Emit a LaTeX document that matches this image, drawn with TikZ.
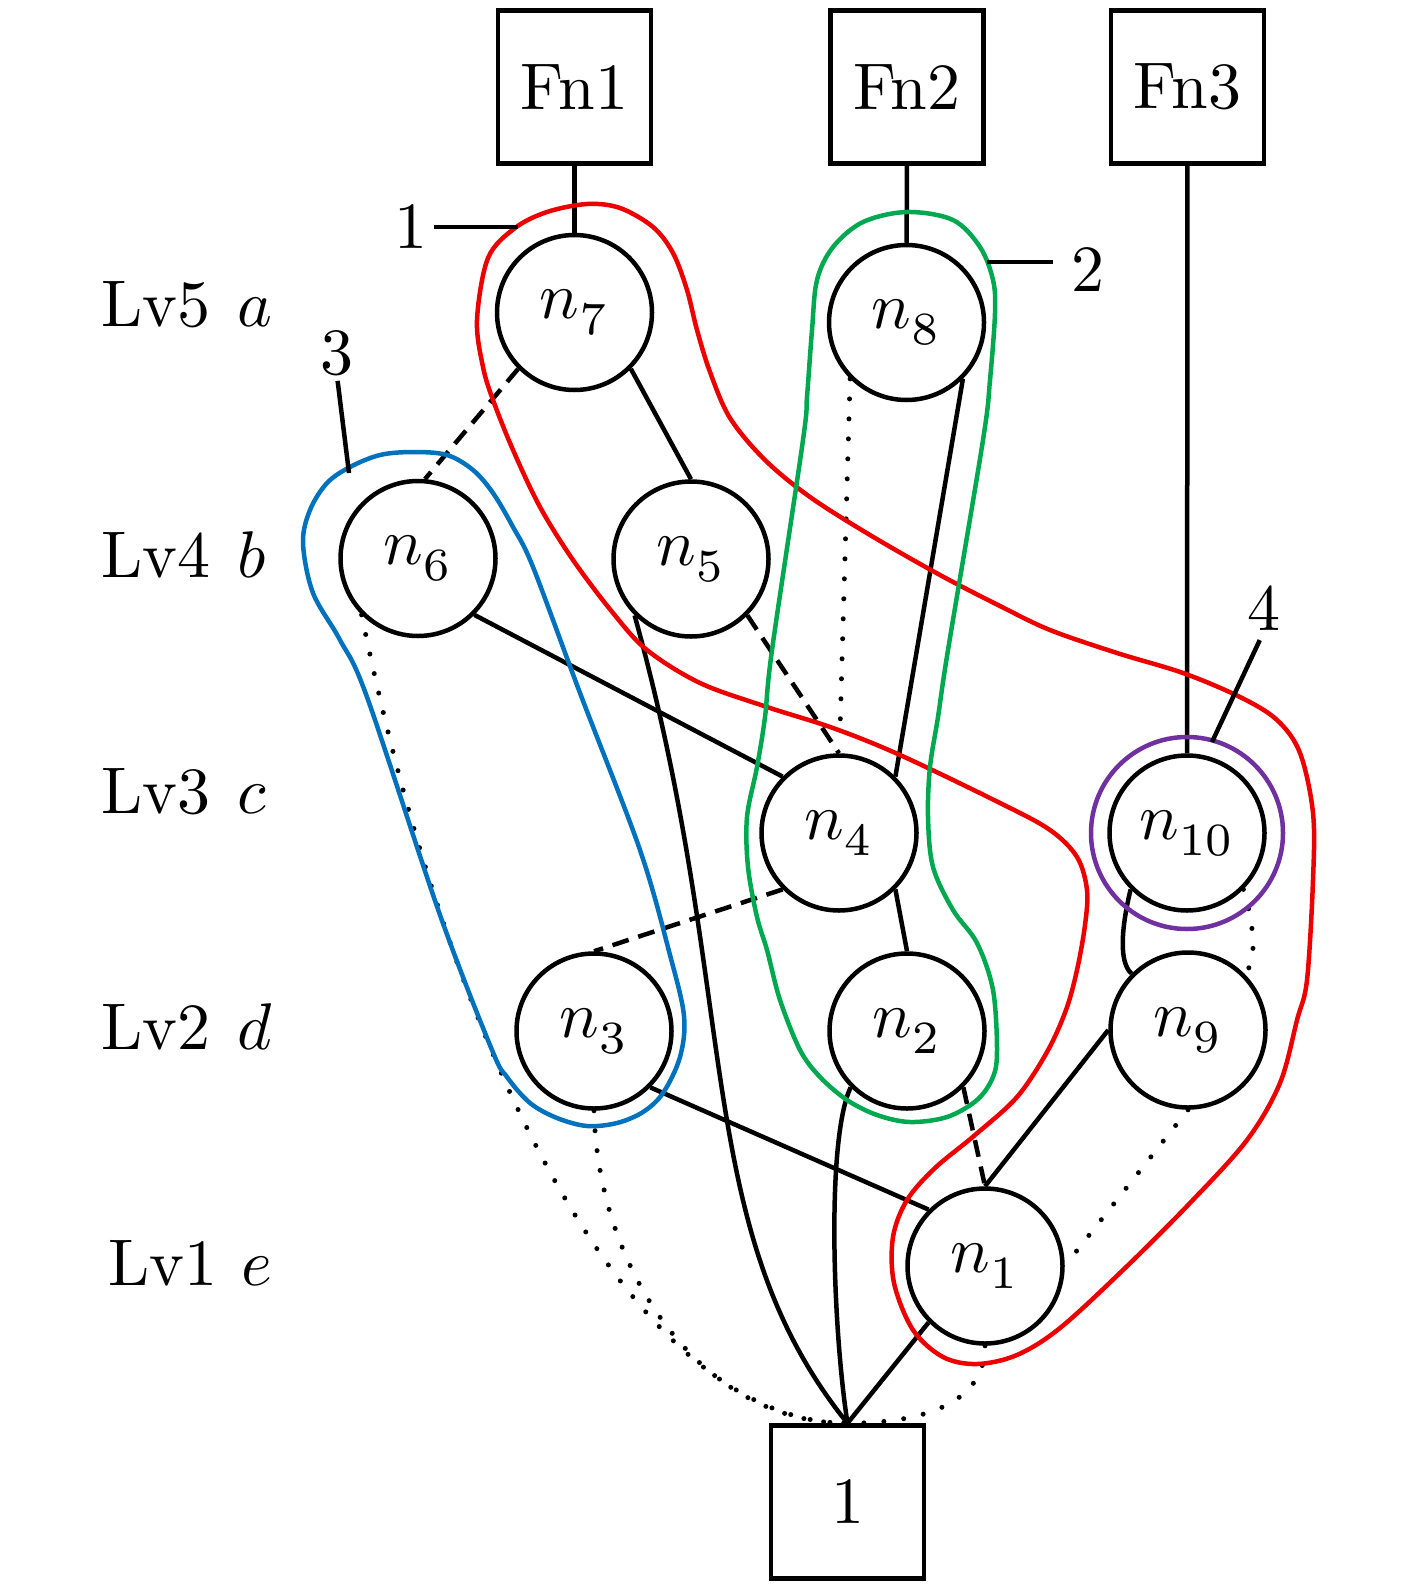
\documentclass[tikz,border=0pt]{standalone}
\definecolor{hred}{RGB}{237,0,0}
\definecolor{hgreen}{RGB}{0,168,80}
\definecolor{hblue}{RGB}{0,114,189}
\definecolor{hpurple}{RGB}{112,48,160}
\newcommand{\BigTxt}[1]{\scalebox{6.6}{#1}}
\tikzset{
  bddnode/.style={circle, draw, line width=4.5pt, minimum size=155pt, inner sep=0pt},
  termbox/.style={rectangle, draw, line width=4.5pt, minimum size=153pt, inner sep=0pt},
  conn/.style={line width=4.5pt},
  dashconn/.style={line width=4.5pt, dash pattern=on 17pt off 10pt},
  dotconn/.style={line width=5pt, line cap=round, dash pattern=on 0pt off 20pt},
  hullline/.style={line width=4.5pt},
  lvl/.style={anchor=base west, inner sep=0pt},
  numlbl/.style={inner sep=0pt},
}
\begin{document}
\begin{tikzpicture}[x=1pt, y=-1pt]
\useasboundingbox (0,0) rectangle (1417,1592);

% terminal boxes
\node[termbox] (fn1) at (574.5,87) {\BigTxt{Fn1}};
\node[termbox] (fn2) at (907,87) {\BigTxt{Fn2}};
\node[termbox] (fn3) at (1187.5,87) {\BigTxt{Fn3}};
\node[termbox] (one) at (847.5,1502) {\BigTxt{1}};

% decision nodes
\node[bddnode] (n7) at (574.5,312.5) {\BigTxt{$n^{}_7$}};
\node[bddnode] (n8) at (906.5,322.5) {\BigTxt{$n^{}_8$}};
\node[bddnode] (n6) at (418,558.5) {\BigTxt{$n^{}_6$}};
\node[bddnode] (n5) at (691,559) {\BigTxt{$n^{}_5$}};
\node[bddnode] (n4) at (839,833) {\BigTxt{$n^{}_4$}};
\node[bddnode] (n10) at (1187,833) {\BigTxt{$n^{}_{10}$}};
\node[bddnode] (n3) at (594,1031) {\BigTxt{$n^{}_3$}};
\node[bddnode] (n2) at (907,1031) {\BigTxt{$n^{}_2$}};
\node[bddnode] (n9) at (1188,1030) {\BigTxt{$n^{}_9$}};
\node[bddnode] (n1) at (985,1266) {\BigTxt{$n^{}_1$}};

% level labels
\node[lvl] (l5) at (101,326) {\BigTxt{Lv5\hspace{4.1pt}$a$}};
\node[lvl] (l4) at (101,577) {\BigTxt{Lv4\hspace{4.1pt}$b$}};
\node[lvl] (l3) at (101,813) {\BigTxt{Lv3\hspace{4.1pt}$c$}};
\node[lvl] (l2) at (101,1049) {\BigTxt{Lv2\hspace{4.1pt}$d$}};
\node[lvl] (l1) at (108,1285) {\BigTxt{Lv1\hspace{3.6pt}$e$}};

% edges
\draw[conn] (fn1) -- (n7);
\draw[conn] (fn2) -- (n8);
\draw[conn] (fn3) -- (n10);
\draw[dashconn] (n7.225) -- (n6.85);
\draw[conn] (n7.south east) -- (n5.north);
\draw[conn] (n8.south east) -- (n4.north east);
\coordinate (d84) at (840.3,720);
\draw[dotconn] (n8.south west) -- (d84);
\draw[conn] (n6.south east) -- (n4.north west);
\draw[dotconn] (n6.south west) .. controls (462,1104) and (648,1423) .. (one.north);
\draw[dashconn] (n5.south east) -- (n4.north);
\draw[conn] (n5.south west) .. controls (742,1003) and (690,1228) .. (one.north);
\draw[dashconn] (n4.south west) -- (n3.north);
\draw[conn] (n4.south east) -- (n2.north);
\draw[conn] (n3.south east) -- (n1.north west);
\draw[dotconn] (n3.south) .. controls (598,1270) and (700,1423) .. (one.north);
\draw[conn] (n2.south west) .. controls (826,1140) and (833,1330) .. (one.north);
\draw[dashconn] (n2.south east) -- (n1.north);
\draw[conn] (n10.south west) .. controls (1122,925) and (1118,962) .. (n9.north west);
\draw[dotconn] (n10.south east) .. controls (1254,925) and (1258,962) .. (n9.north east);
\draw[conn] (n9.west) -- (n1.north);
\draw[dotconn] (n9.south) -- (n1.east);
\draw[conn] (n1.south west) -- (one.north);
\draw[dotconn] (n1.south) .. controls (985,1405) and (920,1423) .. (one.north);

% hulls
\draw[hullline, hred] plot[smooth cycle, tension=0.55] coordinates {
 (587,204) (620,208) (653,227) (673,253) (687,290) (697,330) (710,372) (730,418)
 (765,460) (810,497) (870,535) (940,575) (1000,606) (1050,630) (1117,653) (1183,673)
 (1240,697) (1277,720) (1300,753) (1313,813) (1313,880) (1307,980) (1297,1020)
 (1280,1083) (1247,1140) (1190,1203) (1123,1270) (1060,1328) (1017,1355) (977,1364)
 (943,1357) (913,1330) (894,1283) (893,1237) (907,1200) (935,1168) (975,1135)
 (1017,1097) (1047,1052) (1066,1010) (1077,970) (1085,925) (1087,890) (1077,857) (1050,830)
 (1000,803) (900,755) (833,728) (767,707) (700,683) (647,650) (613,613) (573,560)
 (540,507) (513,450) (493,400) (483,367) (477,320) (488,258) (515,228) (547,212)};
\draw[hullline, hgreen] plot[smooth cycle, tension=0.55] coordinates {
 (907,212) (953,220) (980,247) (993,280) (995,313) (990,380) (983,440) (948,650)
 (938,717) (930,767) (928,817) (933,867) (953,910) (977,943) (993,990) (997,1050)
 (993,1077) (977,1100) (947,1117) (910,1122) (877,1115) (847,1100) (820,1077)
 (800,1050) (780,1000) (767,950) (757,917) (748,867) (747,817) (757,767) (765,717)
 (772,650) (803,440) (807,397) (812,330) (817,280) (833,247) (863,222)};
\draw[hullline, hblue] plot[smooth cycle, tension=0.55] coordinates {
 (380,455) (413,452) (447,455) (473,470) (493,493) (513,527) (533,567)
 (580,693) (640,850) (670,955) (684,1016) (680,1057) (663,1093)
 (643,1112) (617,1123) (587,1126) (557,1118) (530,1103) (507,1077) (492,1050)
 (440,915) (367,697) (340,640) (313,593) (303,543)
 (310,510) (327,483) (350,467)};
\draw[hullline, hpurple] (n10.center) circle[radius=96pt];

% hull labels
\node[numlbl] (t1) at (411,227) {\BigTxt{1}};
\coordinate (h1) at (518,227);
\draw[conn] ([xshift=6pt]t1.east) -- (h1);
\node[numlbl] (t2) at (1088,269.5) {\BigTxt{2}};
\coordinate (h2) at (987,262);
\coordinate (h2b) at (1053,262);
\draw[conn] (h2) -- (h2b);
\node[numlbl] (t3) at (337,353) {\BigTxt{3}};
\coordinate (h3) at (349,473);
\draw[conn, shorten <=5pt] (t3.south) -- (h3);
\node[numlbl] (t4) at (1264,608.5) {\BigTxt{4}};
\coordinate (h4) at (1212,742);
\draw[conn, shorten <=10pt] (t4.south) -- (h4);
\end{tikzpicture}
\end{document}
